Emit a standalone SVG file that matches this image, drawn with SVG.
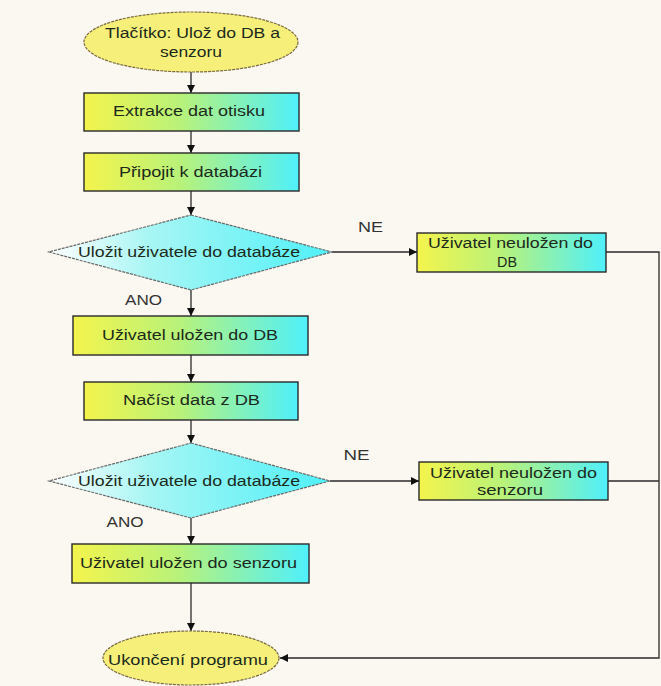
<svg xmlns="http://www.w3.org/2000/svg" width="661" height="686" viewBox="0 0 661 686">
<defs>
<linearGradient id="gBox" x1="0" y1="0" x2="1" y2="0">
<stop offset="0" stop-color="#f4f44c"/>
<stop offset="0.45" stop-color="#b8f27a"/>
<stop offset="1" stop-color="#4ff0fb"/>
</linearGradient>
<linearGradient id="gDia" x1="0" y1="0" x2="1" y2="0">
<stop offset="0" stop-color="#ffffff"/>
<stop offset="0.35" stop-color="#a8f6f4"/>
<stop offset="1" stop-color="#4ff0f8"/>
</linearGradient>
<marker id="arr" viewBox="0 0 10 10" refX="10" refY="5" markerWidth="8" markerHeight="8" markerUnits="userSpaceOnUse" orient="auto">
<path d="M0,0 L10,5 L0,10 z" fill="#111"/>
</marker>
</defs>
<style>
.box{fill:url(#gBox);stroke:#2a2a2a;stroke-width:1.4}
.dia{fill:url(#gDia);stroke:#6a6a6a;stroke-width:1.2;stroke-dasharray:3 1}
.ell{fill:#f6f07a;stroke:#7a6a40;stroke-width:1.2;stroke-dasharray:3 1}
.t{font-family:"Liberation Sans",Arial,sans-serif;font-size:14px;fill:#1c2a1c;text-anchor:middle}
.lbl{font-family:"Liberation Sans",Arial,sans-serif;font-size:14px;fill:#333;text-anchor:middle}
.c{fill:none;stroke:#2a2a2a;stroke-width:1.3}
</style>
<rect width="661" height="686" fill="#fbf8f1"/>
<g id="connectors">
<line class="c" x1="191" y1="72" x2="191" y2="93" marker-end="url(#arr)"/>
<line class="c" x1="191" y1="131" x2="191" y2="153" marker-end="url(#arr)"/>
<line class="c" x1="191" y1="191" x2="191" y2="215" marker-end="url(#arr)"/>
<line class="c" x1="191" y1="290" x2="191" y2="316" marker-end="url(#arr)"/>
<line class="c" x1="191" y1="355" x2="191" y2="382" marker-end="url(#arr)"/>
<line class="c" x1="191" y1="420" x2="191" y2="443" marker-end="url(#arr)"/>
<line class="c" x1="191" y1="518" x2="191" y2="544" marker-end="url(#arr)"/>
<line class="c" x1="191" y1="583" x2="191" y2="631" marker-end="url(#arr)"/>
<line class="c" x1="332" y1="252" x2="417" y2="252" marker-end="url(#arr)"/>
<line class="c" x1="330" y1="481" x2="419" y2="481" marker-end="url(#arr)"/>
<line class="c" x1="608" y1="481" x2="659" y2="481"/>
<path class="c" d="M606,252 H659 V658 H280" stroke-width="1.6" marker-end="url(#arr)"/>
<text class="lbl" x="370.5" y="232" textLength="25" lengthAdjust="spacingAndGlyphs">NE</text>
<text class="lbl" x="143.5" y="305" textLength="37" lengthAdjust="spacingAndGlyphs">ANO</text>
<text class="lbl" x="356.5" y="460" textLength="26" lengthAdjust="spacingAndGlyphs">NE</text>
<text class="lbl" x="125" y="527" textLength="37" lengthAdjust="spacingAndGlyphs">ANO</text>
</g>
<g id="start">
<ellipse class="ell" cx="191" cy="42" rx="107" ry="30"/>
<text class="t" x="192.5" y="38" textLength="175" lengthAdjust="spacingAndGlyphs">Tlačítko: Ulož do DB a</text>
<text class="t" x="191" y="57" textLength="62" lengthAdjust="spacingAndGlyphs">senzoru</text>
</g>
<g id="extrakce">
<rect class="box" x="84" y="93" width="215" height="38"/>
<text class="t" x="189" y="116" textLength="152" lengthAdjust="spacingAndGlyphs">Extrakce dat otisku</text>
</g>
<g id="pripojit">
<rect class="box" x="84" y="153" width="215" height="38"/>
<text class="t" x="190.5" y="177" textLength="143" lengthAdjust="spacingAndGlyphs">Připojit k databázi</text>
</g>
<g id="decision1">
<polygon class="dia" points="191,215 332,252 191,290 49,252"/>
<text class="t" x="189" y="257" textLength="222" lengthAdjust="spacingAndGlyphs">Uložit uživatele do databáze</text>
</g>
<g id="neulozen-db">
<rect class="box" x="417" y="233" width="189" height="39"/>
<text class="t" x="510.5" y="248" textLength="165" lengthAdjust="spacingAndGlyphs">Uživatel neuložen do</text>
<text class="t" x="507" y="267" textLength="20" lengthAdjust="spacingAndGlyphs">DB</text>
</g>
<g id="ulozen-db">
<rect class="box" x="73" y="316" width="235" height="39"/>
<text class="t" x="190" y="340" textLength="176" lengthAdjust="spacingAndGlyphs">Uživatel uložen do DB</text>
</g>
<g id="nacist">
<rect class="box" x="84" y="382" width="214" height="38"/>
<text class="t" x="191.5" y="405" textLength="137" lengthAdjust="spacingAndGlyphs">Načíst data z DB</text>
</g>
<g id="decision2">
<polygon class="dia" points="191,443 330,481 191,518 49,481"/>
<text class="t" x="189" y="486" textLength="222" lengthAdjust="spacingAndGlyphs">Uložit uživatele do databáze</text>
</g>
<g id="neulozen-senzor">
<rect class="box" x="419" y="462" width="189" height="38"/>
<text class="t" x="513.5" y="478" textLength="167" lengthAdjust="spacingAndGlyphs">Uživatel neuložen do</text>
<text class="t" x="510" y="495" textLength="66" lengthAdjust="spacingAndGlyphs">senzoru</text>
</g>
<g id="ulozen-senzor">
<rect class="box" x="72" y="544" width="237" height="39"/>
<text class="t" x="188.5" y="568" textLength="217" lengthAdjust="spacingAndGlyphs">Uživatel uložen do senzoru</text>
</g>
<g id="end">
<ellipse class="ell" cx="191" cy="658" rx="88" ry="27"/>
<text class="t" x="188" y="665" textLength="160" lengthAdjust="spacingAndGlyphs">Ukončení programu</text>
</g>
</svg>
